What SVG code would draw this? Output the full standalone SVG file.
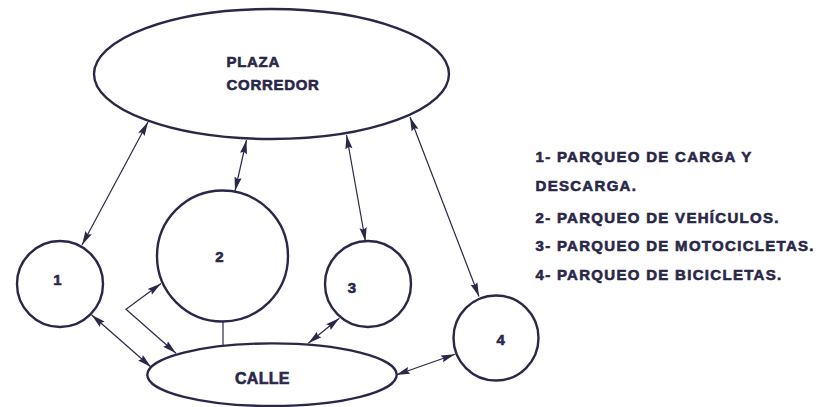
<svg xmlns="http://www.w3.org/2000/svg" width="839" height="407" viewBox="0 0 839 407">
<style>
.shape{fill:#ffffff;stroke:#2a2848;stroke-width:2.4}
.lbl{font-family:"Liberation Sans",Arial,sans-serif;font-weight:bold;fill:#2a2848;stroke:#2a2848;stroke-width:0.6}
.num{font-size:15px;text-anchor:middle}
.leg{font-size:15px;letter-spacing:1.3px}
.con{fill:none;stroke:#2a2848;stroke-width:1.2}
</style>
<defs>
<marker id="ah" markerUnits="userSpaceOnUse" markerWidth="14" markerHeight="8" refX="14" refY="4" orient="auto-start-reverse">
<path d="M0,0.4 L14,4 L0,7.6 L2,4 z" fill="#2a2848"/>
</marker>
</defs>
<rect width="839" height="407" fill="#ffffff"/>
<g id="connectors">
<line class="con" x1="82" y1="245" x2="148" y2="122" marker-start="url(#ah)" marker-end="url(#ah)"/>
<line class="con" x1="235" y1="191" x2="246.5" y2="140" marker-start="url(#ah)" marker-end="url(#ah)"/>
<line class="con" x1="365.5" y1="241.5" x2="346.5" y2="135" marker-start="url(#ah)" marker-end="url(#ah)"/>
<line class="con" x1="479" y1="296.5" x2="410" y2="117" marker-start="url(#ah)" marker-end="url(#ah)"/>
<line class="con" x1="91.7" y1="315" x2="151" y2="367" marker-start="url(#ah)" marker-end="url(#ah)"/>
<polyline class="con" points="161,283.5 126,309.3 176,353.3" marker-start="url(#ah)" marker-end="url(#ah)"/>
<line class="con" x1="223" y1="321.5" x2="223" y2="345"/>
<line class="con" x1="339.3" y1="318.3" x2="308.3" y2="343.3" marker-start="url(#ah)" marker-end="url(#ah)"/>
<line class="con" x1="396" y1="375" x2="455" y2="354.3" marker-start="url(#ah)" marker-end="url(#ah)"/>
</g>
<g id="plaza">
<ellipse class="shape" cx="271.5" cy="74" rx="177.5" ry="65"/>
<text class="lbl" x="226.5" y="66.5" font-size="15" letter-spacing="0.7">PLAZA</text>
<text class="lbl" x="226.5" y="90" font-size="15" letter-spacing="0.7">CORREDOR</text>
</g>
<g id="n1">
<circle class="shape" cx="60" cy="284" r="43"/>
<text class="lbl num" x="57.5" y="285" font-size="14">1</text>
</g>
<g id="n2">
<circle class="shape" cx="222.5" cy="256" r="65.5"/>
<text class="lbl num" x="219.3" y="261.7">2</text>
</g>
<g id="n3">
<circle class="shape" cx="368" cy="284" r="43"/>
<text class="lbl num" x="352" y="293.3">3</text>
</g>
<g id="n4">
<circle class="shape" cx="496" cy="338" r="42.5"/>
<text class="lbl num" x="500.7" y="345">4</text>
</g>
<g id="calle">
<ellipse class="shape" cx="272" cy="374.7" rx="124.7" ry="31.3"/>
<text class="lbl" x="235" y="384" font-size="16" letter-spacing="0.3">CALLE</text>
</g>
<g id="legend">
<text class="lbl leg" x="535.5" y="162">1- PARQUEO DE CARGA Y</text>
<text class="lbl leg" x="535.5" y="191">DESCARGA.</text>
<text class="lbl leg" x="535.5" y="223">2- PARQUEO DE VEHÍCULOS.</text>
<text class="lbl leg" x="535.5" y="251">3- PARQUEO DE MOTOCICLETAS.</text>
<text class="lbl leg" x="535.5" y="280">4- PARQUEO DE BICICLETAS.</text>
</g>
</svg>
